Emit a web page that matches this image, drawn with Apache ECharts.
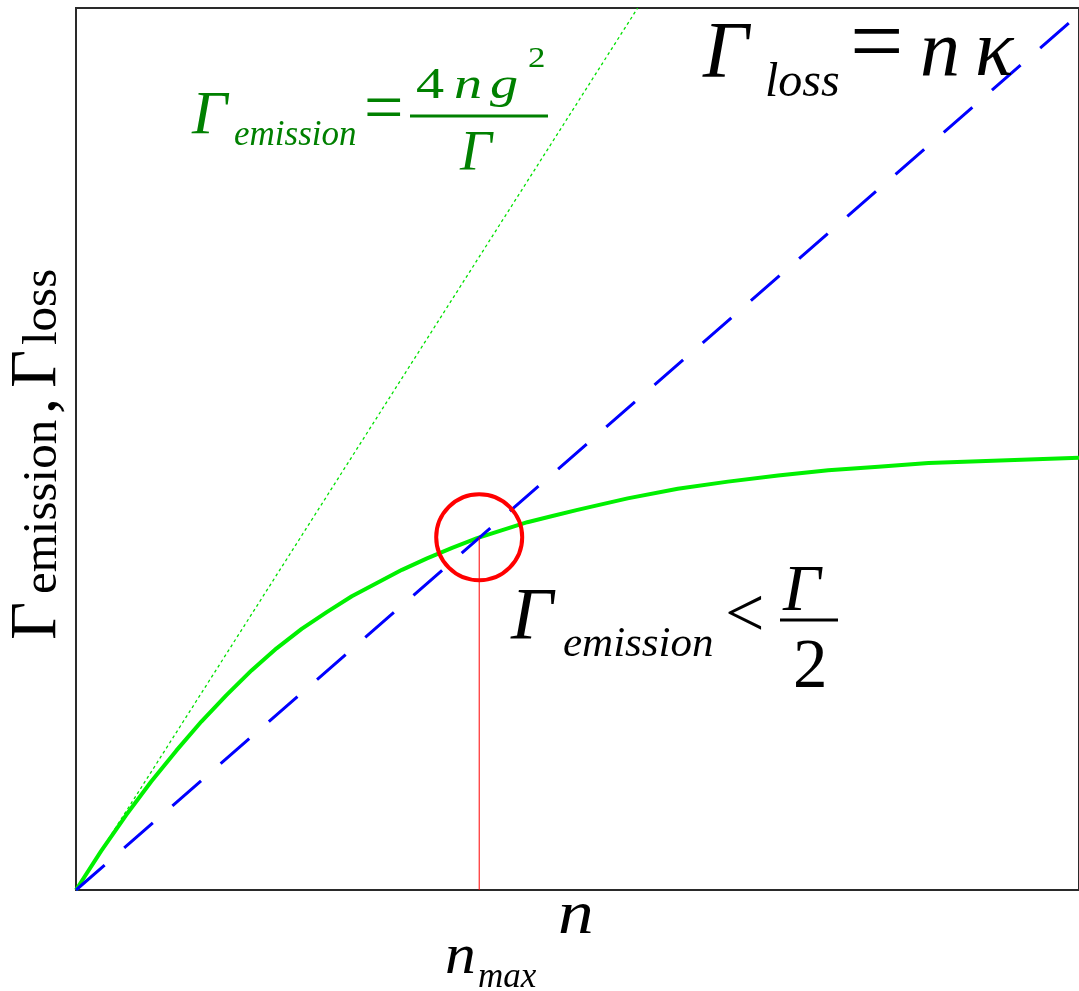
<!DOCTYPE html>
<html>
<head>
<meta charset="utf-8">
<script src="https://cdn.jsdelivr.net/npm/echarts@6/dist/echarts.min.js"></script>
<style>
html,body{margin:0;padding:0;background:#fff;}
#chart{width:1079px;height:991px;}
</style>
</head>
<body>
<div id="chart"></div>
<script>
// ---- data (arbitrary units) ----
const emissionN    = [0, 0.25, 0.5, 0.75, 1.0, 1.25, 1.5, 1.75, 2.0, 2.25, 2.5, 2.75, 3.0, 3.25, 3.5, 3.75, 4.0, 4.25, 4.5, 4.75, 5.0, 5.5, 6.0, 6.5, 7.0, 7.5, 8.0, 8.5, 9.0, 9.5, 10];
const emissionRate = [0, 0.44, 0.85, 1.23, 1.58, 1.91, 2.21, 2.49, 2.74, 2.96, 3.15, 3.33, 3.48, 3.63, 3.76, 3.88, 3.99, 4.08, 4.17, 4.24, 4.31, 4.44, 4.55, 4.63, 4.7, 4.76, 4.8, 4.84, 4.86, 4.88, 4.9];
const lossN        = [0, 10];
const lossRate     = [0, 9.93];
const linearN      = [0, 5.6];
const linearRate   = [0, 10];
const nMax         = [4.02];
const rateAtNMax   = [4.0];

const zip = (a, b) => a.map((v, i) => [v, b[i]]);

const chart = echarts.init(document.getElementById('chart'));

const SERIF = '"Liberation Serif", "Times New Roman", serif';
function txt(text, x, baseline, size, opt) {
  opt = opt || {};
  return {
    type: 'text',
    z: 100,
    x: x,
    y: baseline - 0.3 * size,
    scaleX: opt.sx || 1,
    style: {
      text: text,
      x: 0, y: 0,
      fontFamily: SERIF,
      fontSize: size,
      fontStyle: opt.italic === false ? 'normal' : 'italic',
      fill: opt.fill || '#000',
      align: 'left',
      verticalAlign: 'middle'
    }
  };
}
function vtxt(text, baselineX, startY, size) {
  return {
    type: 'text',
    z: 100,
    x: baselineX - 0.3 * size,
    y: startY,
    rotation: Math.PI / 2,
    style: {
      text: text,
      x: 0, y: 0,
      fontFamily: SERIF,
      fontSize: size,
      fill: '#000',
      align: 'left',
      verticalAlign: 'middle'
    }
  };
}
function bar(x1, x2, y, color) {
  return { type: 'rect', z: 100, shape: { x: x1, y: y - 1.5, width: x2 - x1, height: 3 }, style: { fill: color } };
}
const G = '#008000';

chart.setOption({
  animation: false,
  backgroundColor: '#fff',
  grid: { left: 76, right: -4, top: 8, bottom: 101, show: true, borderColor: '#2a2a2a', borderWidth: 2, backgroundColor: 'rgba(0,0,0,0)' },
  xAxis: { type: 'value', min: 0, max: 10, show: false },
  yAxis: { type: 'value', min: 0, max: 10, show: false },
  series: [
    { type: 'line', data: zip(linearN, linearRate), showSymbol: false, lineStyle: { color: '#00e000', width: 1.3, type: [3, 3] }, z: 2 },
    { type: 'line', data: zip(emissionN, emissionRate), smooth: false, showSymbol: false, lineStyle: { color: '#00f000', width: 4, join: 'round' }, z: 3 },
    { type: 'line', data: zip(lossN, lossRate), showSymbol: false, lineStyle: { color: '#0000ff', width: 3, type: [38, 26] }, z: 4 },
    { type: 'line', data: [[nMax[0], 0], [nMax[0], rateAtNMax[0]]], showSymbol: false, lineStyle: { color: '#ff0000', width: 1 }, z: 5 },
    { type: 'scatter', data: zip(nMax, rateAtNMax), symbol: 'circle', symbolSize: 86, itemStyle: { color: 'rgba(0,0,0,0)', borderColor: '#ff0000', borderWidth: 4, opacity: 1 }, z: 6 }
  ],
  graphic: [
    // green formula
    txt('Γ', 192, 135, 62, { fill: G }),
    txt('emission', 234, 146, 35, { fill: G }),
    txt('=', 364, 134, 70, { italic: false, fill: G }),
    bar(410, 548, 116, G),
    txt('4', 416, 100, 45, { italic: false, fill: G, sx: 1.25 }),
    txt('n', 454, 100, 45, { fill: G, sx: 1.25 }),
    txt('g', 490, 100, 45, { fill: G, sx: 1.25 }),
    txt('2', 528, 68, 29, { italic: false, fill: G, sx: 1.2 }),
    txt('Γ', 460, 172, 56, { fill: G }),
    // loss formula
    txt('Γ', 703, 80, 80),
    txt('loss', 765, 98, 48),
    txt('=', 850, 77, 95, { italic: false }),
    txt('n', 920, 78, 80),
    txt('κ', 975, 78, 80),
    // limit
    txt('Γ', 511, 642, 74),
    txt('emission', 563, 658, 43),
    txt('<', 725, 639, 70, { italic: false }),
    bar(780, 838, 620, '#000'),
    txt('Γ', 783, 612, 66),
    txt('2', 793, 690, 69, { italic: false }),
    // axis labels
    txt('n', 558, 935, 62, { sx: 1.15 }),
    txt('n', 445, 975, 56, { sx: 1.1 }),
    txt('max', 478, 988, 35),
    vtxt('Γ', 57, 640, 66),
    vtxt('emission', 58, 594, 49),
    vtxt(',', 57, 414, 64),
    vtxt('Γ', 57, 388, 66),
    vtxt('loss', 58, 345, 49)
  ]
});
</script>
</body>
</html>
